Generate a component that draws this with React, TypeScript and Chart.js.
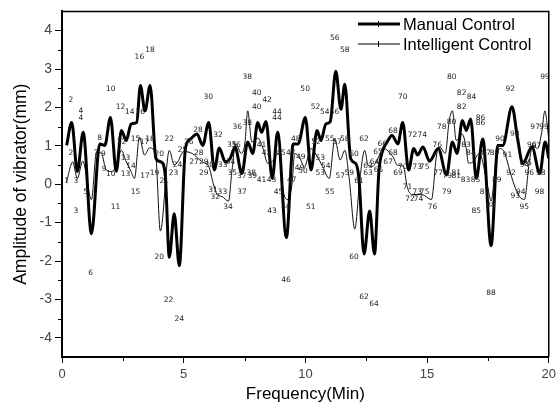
import React, { useEffect, useRef } from 'react';
import { Chart, registerables } from 'chart.js';

Chart.register(...registerables);

const seriesNames = ['Manual Control', 'Intelligent Control'];

const manualX = [0.19, 0.4, 0.63, 0.87, 1.21, 1.55, 1.76, 1.99, 2.23, 2.44, 2.64, 2.84, 3.07, 3.22, 3.41, 3.62, 3.86, 4.07, 4.24, 4.41, 4.61, 4.82, 5.07, 5.28, 5.55, 5.78, 6.03, 6.26, 6.46, 6.71, 6.91, 7.11, 7.39, 7.63, 7.84, 8.04, 8.2, 8.38, 8.64, 8.86, 9.22, 9.5, 9.7, 10.0, 10.23, 10.48, 10.64, 10.84, 11.02, 11.25, 11.46, 11.62, 11.86, 12.07, 12.2, 12.41, 12.64, 12.84, 13.02, 13.16, 13.36, 13.56, 13.8, 14.0, 14.24, 14.45, 14.61, 14.83, 15.1, 15.46, 15.8, 16.04, 16.23, 16.45, 16.61, 16.79, 17.02, 17.29, 17.63, 17.91, 18.11, 18.49, 18.72, 18.93, 19.31, 19.63, 19.85, 20.0];
const manualY = [1.01, 1.61, 0.33, 1.35, -1.29, 1.05, 1.01, 1.74, 0.34, 1.4, 1.14, 1.57, 1.61, 2.57, 1.91, 2.57, 0.67, 0.58, 0.25, -1.9, -0.77, -2.12, 0.93, 1.18, 1.31, 1.01, 1.61, 0.37, 0.94, 0.58, 0.67, 0.97, 0.28, 1.1, 0.8, 1.61, 1.35, 1.63, 0.15, 1.35, -1.39, 1.05, 1.05, 1.74, 0.37, 1.4, 1.14, 1.57, 1.63, 2.94, 1.95, 2.6, 0.67, 0.54, 0.15, -1.82, -0.7, -1.82, 0.33, 0.84, 1.1, 1.27, 1.05, 1.61, 0.37, 0.93, 0.76, 0.97, 0.6, 0.93, 0.24, 1.1, 0.8, 1.66, 1.4, 1.7, 0.15, 1.18, -1.6, 1.01, 1.01, 2.02, 1.18, 0.54, 0.97, 0.28, 1.1, 0.67];

const intelX = [0.19, 0.44, 0.63, 0.85, 1.21, 1.42, 1.62, 1.82, 2.07, 2.23, 2.44, 2.64, 2.84, 2.98, 3.18, 3.39, 3.6, 3.85, 4.04, 4.41, 4.61, 4.75, 5.0, 5.35, 5.76, 6.03, 6.23, 6.37, 6.57, 6.84, 6.98, 7.14, 7.37, 7.52, 7.63, 7.8, 8.05, 8.25, 8.45, 8.65, 8.9, 9.09, 9.27, 9.45, 9.56, 9.76, 9.96, 10.23, 10.5, 10.71, 10.98, 11.21, 11.43, 11.62, 11.8, 12.03, 12.24, 12.44, 12.57, 12.75, 12.95, 13.2, 13.6, 13.77, 14.03, 14.18, 14.38, 14.79, 15.18, 15.39, 15.52, 15.75, 15.9, 16.04, 16.2, 16.45, 16.61, 16.7, 16.88, 17.15, 17.5, 17.63, 17.84, 18.0, 18.2, 18.35, 18.58, 18.8, 19.0, 19.2, 19.34, 19.54, 19.71, 19.84, 19.99];
const intelY = [0.07, 0.58, 0.15, 0.6, -0.4, 0.84, 0.8, 0.37, 0.33, 0.5, 0.88, 0.58, 0.33, 0.15, 1.23, 0.76, 0.95, 0.75, -1.22, 0.88, 0.5, 0.58, 0.85, 0.8, 0.58, 0.46, -0.02, -0.27, -0.32, -0.44, 0.33, 1.05, 0.8, 1.1, 1.91, 1.1, 1.2, 0.95, 0.55, 0.6, 0.8, -0.19, -0.4, 0.0, 0.8, 0.7, 0.45, 0.93, 0.7, 0.46, 0.15, 1.18, 0.63, 0.88, 0.15, -1.17, 0.15, 0.88, 0.5, 0.46, 0.63, 0.93, 0.71, 0.5, 0.46, -0.06, -0.27, -0.27, -0.4, 0.76, 0.97, 0.8, 1.61, 1.91, 1.14, 1.3, 0.93, 0.55, 0.58, 0.8, -0.1, -0.44, 0.67, 0.93, 0.8, 0.46, -0.02, -0.32, -0.4, 0.58, 1.01, 0.93, 1.35, 1.91, 1.23];

const xTickValues = [0, 5, 10, 15, 20];
const yTickValues = [-4, -3, -2, -1, 0, 1, 2, 3, 4];

const pointLabelText = ['2', '4', '4', '10', '12', '14', '16', '16', '18', '8', '2', '1', '3', '7', '9', '9', '10', '12', '13', '14', '13', '15', '17', '18', '17', '19', '20', '21', '22', '23', '24', '25', '15', '5', '3', '11', '6', '20', '22', '24',
  '30', '38', '40', '42', '40', '44', '44', '36', '38', '28', '32', '26', '28', '27', '29', '30', '29', '33', '34', '35', '36', '35', '37', '38', '39', '41', '42', '41', '43', '45', '47', '47', '48', '49', '49', '50', '31', '32', '33', '34', '37', '43', '46', '51', '55', '60', '62', '64', '45', '46',
  '50', '52', '54', '56', '56', '58', '62', '55', '57', '58', '60', '52', '53', '54', '53', '57', '59', '61', '63', '63', '64', '65', '66', '65', '68', '68', '67', '69', '70', '72', '74', '73', '75', '71', '73', '75', '72', '74', '70',
  '80', '82', '84', '82', '86', '86', '92', '99', '78', '80', '97', '99', '93', '76', '79', '85', '88', '95', '98', '94', '93', '76', '83', '84', '87', '89', '90', '91', '92', '77', '79', '81', '81', '83', '85', '89', '87', '88', '94', '95', '96', '96', '98', '97'];
const pointLabelX = [0.37, 0.78, 0.78, 2.0, 2.4, 2.78, 3.21, 3.18, 3.62, 1.55, 0.37, 0.19, 0.57, 1.4, 1.7, 1.73, 2.0, 2.44, 2.61, 2.84, 2.61, 3.02, 3.39, 3.62, 3.41, 3.8, 4.0, 4.2, 4.41, 4.58, 4.75, 4.95, 3.02, 0.97, 0.57, 2.2, 1.18, 4.0, 4.38, 4.82,
  6.01, 7.61, 8.0, 8.42, 8.0, 8.83, 8.83, 7.2, 7.61, 5.59, 6.41, 5.21, 5.62, 5.42, 5.82, 6.05, 5.82, 6.6, 6.92, 6.98, 7.15, 7.0, 7.39, 7.78, 7.82, 8.2, 8.4, 8.2, 8.61, 8.99, 9.4, 9.44, 9.6, 9.81, 9.76, 9.9, 6.2, 6.3, 6.59, 6.82, 7.4, 8.63, 9.2, 10.22, 11.0, 12.0, 12.41, 12.82, 8.9, 9.2,
  9.99, 10.42, 10.8, 11.2, 11.21, 11.62, 12.41, 11.0, 11.3, 11.62, 12.0, 10.44, 10.61, 10.84, 10.61, 11.43, 11.8, 12.2, 12.57, 12.57, 12.84, 13.0, 13.16, 12.98, 13.6, 13.6, 13.4, 13.81, 14.0, 14.4, 14.8, 14.6, 14.9, 14.2, 14.6, 14.9, 14.3, 14.65, 14.0,
  16.01, 16.42, 16.83, 16.42, 17.2, 17.2, 18.42, 19.85, 15.6, 16.0, 19.44, 19.8, 18.6, 15.22, 15.81, 17.02, 17.63, 18.99, 19.62, 18.85, 18.62, 15.42, 16.6, 16.8, 17.43, 17.77, 18.0, 18.3, 18.45, 15.46, 15.83, 16.2, 16.2, 16.58, 16.99, 17.86, 17.36, 17.63, 19.0, 19.12, 19.3, 19.2, 19.67, 19.5];
const pointLabelY = [2.19, 1.91, 1.71, 2.49, 2.0, 1.89, 1.89, 3.31, 3.5, 1.2, 0.8, 0.07, 0.07, 0.82, 0.78, 0.39, 0.27, 1.1, 0.67, 0.47, 0.27, 1.18, 1.1, 1.18, 0.2, 0.28, 0.79, 0.07, 1.18, 0.28, 0.5, 0.9, -0.2, -0.2, -0.7, -0.6, -2.31, -1.9, -3.02, -3.5,
  2.27, 2.79, 2.38, 2.19, 2.0, 1.89, 1.71, 1.5, 1.59, 1.4, 1.29, 1.1, 0.8, 0.58, 0.58, 0.5, 0.28, 0.5, 0.58, 1.01, 1.01, 0.28, 0.2, 0.3, 0.2, 1.01, 0.8, 0.11, 0.11, 0.8, 0.8, 0.11, 1.18, 0.71, 0.41, 0.35, -0.14, -0.34, -0.2, -0.6, -0.2, -0.7, -2.5, -0.6, -0.2, -1.9, -2.93, -3.13, -0.2, -0.6,
  2.49, 2.0, 1.89, 1.89, 3.81, 3.5, 1.18, 1.18, 1.1, 1.18, 0.79, 1.1, 0.67, 0.47, 0.28, 0.2, 0.28, 0.07, 0.47, 0.28, 0.58, 0.38, 1.05, 0.84, 1.38, 0.8, 0.58, 0.28, 0.45, 1.29, 1.29, 0.45, 0.45, -0.08, -0.2, -0.2, -0.38, -0.38, 2.27,
  2.79, 2.38, 2.27, 2.0, 1.71, 1.59, 2.49, 2.79, 1.5, 1.61, 1.5, 1.5, 1.31, -0.6, -0.2, -0.7, -2.83, -0.6, -0.2, -0.2, -0.3, 1.01, 1.01, 0.8, 0.8, 0.8, 1.18, 0.76, 0.28, 0.28, 0.2, 0.2, 0.3, 0.1, 0.1, 0.1, -0.2, -0.55, 0.5, 0.55, 1.01, 0.28, 0.28, 1.0];

const SANS = '"Liberation Sans", Arial, sans-serif';

const decorPlugin = {
  id: 'decor',
  afterDatasetsDraw(chart: any) {
    const { ctx, scales } = chart;
    const xs = scales.x;
    const ys = scales.y;
    ctx.save();
    ctx.fillStyle = '#222';
    ctx.font = '7.5px "DejaVu Sans", sans-serif';
    ctx.textAlign = 'center';
    ctx.textBaseline = 'middle';
    for (let i = 0; i < pointLabelText.length; i++) {
      ctx.fillText(pointLabelText[i], xs.getPixelForValue(pointLabelX[i]), ys.getPixelForValue(pointLabelY[i]));
    }
    ctx.restore();
  },
  afterDraw(chart: any) {
    const { ctx, chartArea: a, scales } = chart;
    const xs = scales.x;
    const ys = scales.y;
    ctx.save();
    ctx.strokeStyle = '#000';
    ctx.lineWidth = 1.5;
    ctx.beginPath();
    ctx.moveTo(a.left, a.top);
    ctx.lineTo(a.right, a.top);
    ctx.lineTo(a.right, a.bottom);
    ctx.stroke();
    // minor ticks
    ctx.lineWidth = 1;
    ctx.beginPath();
    for (let v = -3.5; v <= 3.5; v += 1) {
      const py = Math.round(ys.getPixelForValue(v)) + 0.5;
      ctx.moveTo(a.left - 4, py);
      ctx.lineTo(a.left, py);
    }
    for (let v = 2.5; v < 20; v += 5) {
      const px = Math.round(xs.getPixelForValue(v)) + 0.5;
      ctx.moveTo(px, a.bottom);
      ctx.lineTo(px, a.bottom + 4);
    }
    ctx.stroke();
    // legend
    const items = chart.data.datasets;
    const lx0 = 358;
    const lx1 = 400;
    const rows = [24, 44];
    items.forEach((ds: any, i: number) => {
      const yy = rows[i];
      ctx.strokeStyle = '#000';
      ctx.lineWidth = ds.borderWidth;
      ctx.beginPath();
      ctx.moveTo(lx0, yy);
      ctx.lineTo(lx1, yy);
      ctx.stroke();
      ctx.lineWidth = 1;
      ctx.beginPath();
      ctx.moveTo(378.5, yy - 3);
      ctx.lineTo(378.5, yy + 3);
      ctx.stroke();
      ctx.fillStyle = '#000';
      ctx.font = '16.5px ' + SANS;
      ctx.textAlign = 'left';
      ctx.textBaseline = 'middle';
      ctx.fillText(ds.label, 403, yy + 1);
    });
    ctx.restore();
  },
};

export default function App() {
  const ref = useRef<HTMLCanvasElement | null>(null);
  useEffect(() => {
    if (!ref.current) return;
    const chart = new Chart(ref.current, {
      type: 'line',
      data: {
        datasets: [
          {
            label: seriesNames[0],
            data: manualX.map((x, i) => ({ x, y: manualY[i] })),
            borderColor: '#000',
            borderWidth: 3,
            pointRadius: 0,
            cubicInterpolationMode: 'monotone',
            fill: false,
          },
          {
            label: seriesNames[1],
            data: intelX.map((x, i) => ({ x, y: intelY[i] })),
            borderColor: '#111',
            borderWidth: 1,
            pointRadius: 0,
            cubicInterpolationMode: 'monotone',
            fill: false,
          },
        ],
      },
      options: {
        animation: false,
        responsive: true,
        maintainAspectRatio: false,
        layout: { padding: { left: 0, right: 8, top: 7, bottom: 0 } },
        plugins: { legend: { display: false }, tooltip: { enabled: false } },
        scales: {
          x: {
            type: 'linear',
            min: 0,
            max: 20,
            afterFit: (s: any) => { s.height = 55; },
            afterBuildTicks: (s: any) => { s.ticks = xTickValues.map((v) => ({ value: v })); },
            ticks: { font: { family: SANS, size: 13 }, color: '#444', padding: 4, maxRotation: 0 },
            grid: { display: true, drawOnChartArea: false, drawTicks: true, tickLength: 6, color: '#000', lineWidth: 1 },
            border: { display: true, color: '#000', width: 2 },
            title: { display: true, text: 'Frequency(Min)', color: '#000', font: { family: SANS, size: 17 }, padding: { top: 0, bottom: 7 } },
          },
          y: {
            type: 'linear',
            min: -4.5,
            max: 4.5,
            afterFit: (s: any) => { s.width = 62; },
            afterBuildTicks: (s: any) => { s.ticks = yTickValues.map((v) => ({ value: v })); },
            ticks: { font: { family: SANS, size: 14 }, color: '#444', padding: 3 },
            grid: { display: true, drawOnChartArea: false, drawTicks: true, tickLength: 7, color: '#000', lineWidth: 1 },
            border: { display: true, color: '#000', width: 2 },
            title: { display: true, text: 'Amplitude of vibrator(mm)', color: '#000', font: { family: SANS, size: 17.5 }, padding: { top: 11, bottom: 0 } },
          },
        },
      } as any,
      plugins: [decorPlugin],
    });
    return () => chart.destroy();
  }, []);
  return (
    <div style={{ position: 'fixed', left: 0, top: 0, width: 560, height: 412, background: '#fff' }}>
      <canvas ref={ref} />
    </div>
  );
}
